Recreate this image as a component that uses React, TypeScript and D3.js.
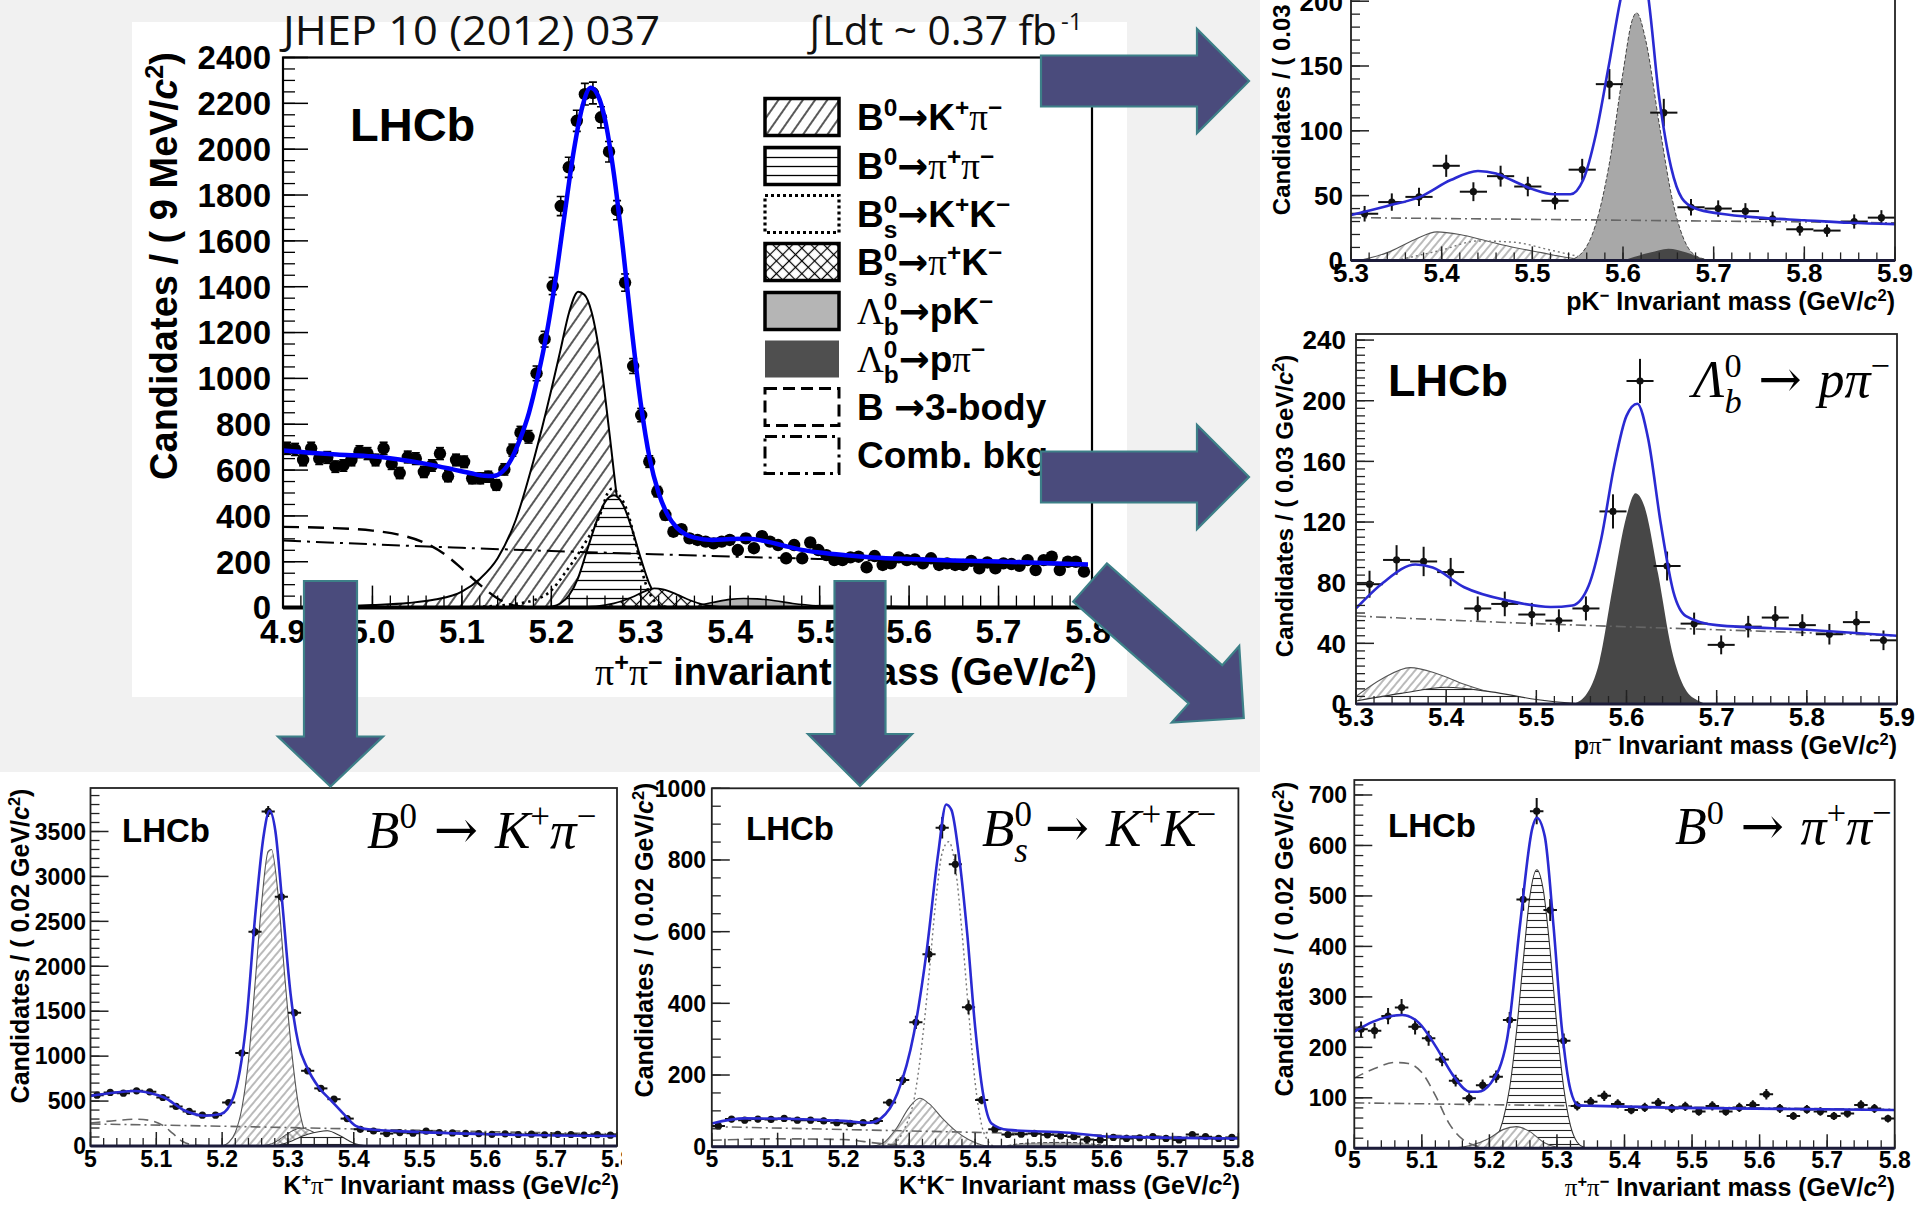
import React, { useEffect } from "react";
import * as d3 from "d3";

type Pt = [number, number];

// ======================= DATA =======================
// Main plot: pi+pi- invariant mass, 9 MeV/c^2 bins from 4.9 GeV/c^2
const mainBinStart = 4.9;
const mainBinWidth = 0.009;
const mainCounts: number[] = [
  695, 690, 644, 695, 650, 655, 615, 620, 644, 680,
  672, 644, 695, 628, 587, 657, 650, 592, 620, 672,
  573, 644, 636, 564, 564, 571, 535, 603, 687, 763,
  745, 1022, 1171, 1403, 1752, 1921, 2124, 2240, 2245, 2139,
  1989, 1734, 1418, 1054, 840, 637, 506, 404, 331, 342,
  302, 295, 288, 280, 288, 295, 251, 302, 259, 312,
  288, 273, 215, 273, 215, 284, 251, 229, 207, 207,
  219, 222, 176, 225, 186, 193, 219, 207, 210, 193,
  215, 186, 193, 186, 186, 204, 171, 197, 171, 193,
  190, 182, 207, 164, 207, 222, 164, 200, 200, 157,
];
const mainFit: Pt[] = [
  [4.9, 685], [4.93, 676], [4.96, 668], [5.0, 660], [5.03, 646], [5.06, 627], [5.09, 603],
  [5.11, 586], [5.125, 575], [5.135, 574], [5.145, 592], [5.155, 645], [5.165, 735],
  [5.175, 850], [5.185, 1010], [5.195, 1200], [5.205, 1440], [5.215, 1720], [5.225, 1990],
  [5.235, 2190], [5.244, 2268], [5.252, 2235], [5.26, 2130], [5.27, 1890], [5.28, 1570],
  [5.29, 1210], [5.3, 890], [5.31, 650], [5.32, 500], [5.33, 405], [5.34, 350], [5.35, 320],
  [5.36, 305], [5.38, 295], [5.4, 299], [5.42, 300], [5.44, 289], [5.46, 270], [5.48, 252],
  [5.5, 240], [5.53, 228], [5.56, 219], [5.6, 212], [5.65, 206], [5.7, 201], [5.75, 195], [5.8, 188],
];
const mainBdKpi: Pt[] = [
  [4.92, 2], [4.96, 5], [5.0, 11], [5.04, 20], [5.07, 35], [5.1, 70], [5.12, 125], [5.14, 215],
  [5.16, 380], [5.18, 640], [5.2, 950], [5.21, 1120], [5.22, 1290], [5.23, 1378], [5.237, 1365],
  [5.245, 1290], [5.255, 1080], [5.265, 760], [5.275, 430], [5.285, 200], [5.295, 70],
  [5.305, 20], [5.32, 3], [5.34, 0],
];
const mainBdPipi: Pt[] = [
  [5.19, 0], [5.2, 4], [5.21, 18], [5.22, 55], [5.23, 130], [5.24, 250], [5.25, 370], [5.26, 460],
  [5.27, 490], [5.28, 450], [5.29, 345], [5.3, 215], [5.31, 100], [5.32, 35], [5.33, 10],
  [5.34, 2], [5.35, 0],
];
const mainBsKK: Pt[] = [
  [5.08, 0], [5.12, 4], [5.15, 12], [5.18, 32], [5.2, 75], [5.215, 150], [5.235, 265],
  [5.255, 410], [5.263, 500], [5.268, 520], [5.275, 495], [5.285, 420], [5.295, 270],
  [5.305, 110], [5.315, 30], [5.325, 5], [5.34, 0],
];
const mainBsPiK: Pt[] = [
  [5.22, 0], [5.25, 5], [5.27, 18], [5.29, 45], [5.305, 72], [5.315, 84], [5.325, 80],
  [5.34, 58], [5.355, 32], [5.37, 13], [5.385, 4], [5.4, 0],
];
const mainLbPK: Pt[] = [
  [5.33, 0], [5.36, 8], [5.38, 22], [5.4, 36], [5.415, 40], [5.43, 38], [5.45, 30], [5.47, 18],
  [5.5, 7], [5.53, 2], [5.55, 0],
];
const mainLbPPi: Pt[] = [[5.44, 0], [5.47, 6], [5.5, 12], [5.54, 14], [5.58, 9], [5.62, 3], [5.66, 0]];
const main3Body: Pt[] = [
  [4.9, 352], [4.95, 348], [5.0, 336], [5.03, 318], [5.06, 280], [5.08, 235], [5.1, 170],
  [5.12, 100], [5.14, 40], [5.16, 8], [5.18, 0],
];
const mainComb: Pt[] = [
  [4.9, 293], [5.0, 276], [5.1, 261], [5.2, 247], [5.3, 235], [5.4, 223], [5.5, 212],
  [5.6, 202], [5.7, 193], [5.8, 185],
];
const mainXTicks = [4.9, 5.0, 5.1, 5.2, 5.3, 5.4, 5.5, 5.6, 5.7, 5.8];
const mainXTickLabels = ["4.9", "5.0", "5.1", "5.2", "5.3", "5.4", "5.5", "5.6", "5.7", "5.8"];
const mainYTicks = [0, 200, 400, 600, 800, 1000, 1200, 1400, 1600, 1800, 2000, 2200, 2400];

// Right top: pK- invariant mass, 0.03 GeV/c^2 bins
const pkBinStart = 5.3;
const pkBinWidth = 0.03;
const pkCounts: number[] = [36, 45, 49, 73, 53, 65, 57, 46, 70, 136, 226, 114, 41, 40, 38, 32, 24, 23, 30, 33];
const pkFit: Pt[] = [
  [5.3, 35], [5.34, 42], [5.376, 49], [5.41, 62], [5.44, 69], [5.46, 67], [5.477, 62], [5.5, 55],
  [5.524, 51], [5.542, 51], [5.556, 62], [5.57, 97], [5.584, 149], [5.6, 210], [5.613, 235],
  [5.626, 212], [5.64, 125], [5.653, 72], [5.665, 48], [5.68, 40], [5.708, 36], [5.75, 33],
  [5.8, 31], [5.85, 29], [5.9, 28],
];
const pkLbPK: Pt[] = [
  [5.54, 0], [5.555, 6], [5.57, 28], [5.585, 75], [5.6, 145], [5.61, 185], [5.615, 191],
  [5.625, 170], [5.64, 105], [5.655, 45], [5.67, 12], [5.685, 2], [5.7, 0],
];
const pkLbPPi: Pt[] = [[5.6, 0], [5.63, 6], [5.65, 9], [5.67, 6], [5.69, 1], [5.7, 0]];
const pkBdKpi: Pt[] = [
  [5.31, 0], [5.34, 6], [5.37, 16], [5.395, 22], [5.42, 20], [5.45, 15], [5.48, 10], [5.51, 6],
  [5.54, 2], [5.57, 0],
];
const pkOther: Pt[] = [[5.35, 0], [5.4, 8], [5.44, 15], [5.48, 14], [5.52, 8], [5.56, 2], [5.6, 0]];
const pkComb: Pt[] = [[5.3, 33], [5.6, 31], [5.9, 29]];
const pkYTicks = [0, 50, 100, 150, 200];

// Right middle: p pi- invariant mass, 0.03 GeV/c^2 bins
const ppiBinStart = 5.3;
const ppiBinWidth = 0.03;
const ppiCounts: number[] = [79, 95, 94, 87, 63, 66, 59, 55, 63, 127, 213, 91, 53, 39, 51, 57, 52, 46, 54, 42];
const ppiFit: Pt[] = [
  [5.3, 63], [5.33, 80], [5.366, 92], [5.385, 90], [5.42, 77], [5.47, 68], [5.516, 64], [5.54, 65],
  [5.558, 78], [5.572, 109], [5.586, 156], [5.6, 190], [5.612, 198], [5.624, 175], [5.638, 119],
  [5.652, 74], [5.666, 58], [5.7, 52], [5.8, 49], [5.9, 45],
];
const ppiLbPPi: Pt[] = [
  [5.54, 0], [5.555, 6], [5.57, 28], [5.585, 78], [5.6, 124], [5.61, 139], [5.62, 130],
  [5.635, 86], [5.65, 36], [5.665, 10], [5.68, 2], [5.69, 0],
];
const ppiBdKpi: Pt[] = [[5.3, 5], [5.33, 17], [5.36, 24], [5.39, 20], [5.42, 13], [5.46, 6], [5.5, 2], [5.54, 0]];
const ppiOther: Pt[] = [[5.3, 2], [5.35, 7], [5.4, 11], [5.45, 8], [5.5, 3], [5.55, 0]];
const ppiComb: Pt[] = [[5.3, 58], [5.5, 53], [5.7, 49], [5.9, 45]];
const ppiYTicks = [0, 40, 80, 120, 160, 200, 240];
const rightXTicks = [5.3, 5.4, 5.5, 5.6, 5.7, 5.8, 5.9];
const rightXTickLabels = ["5.3", "5.4", "5.5", "5.6", "5.7", "5.8", "5.9"];

// Bottom left: K+pi- invariant mass, 0.02 GeV/c^2 bins
const kpiBinStart = 5.0;
const kpiBinWidth = 0.02;
const kpiCounts: number[] = [
  566, 596, 588, 614, 603, 540, 440, 385, 343, 343,
  484, 1035, 2383, 3723, 2774, 1482, 837, 641, 521, 305,
  186, 167, 138, 149, 142, 165, 150, 145, 140, 138,
  130, 135, 128, 132, 125, 130, 128, 122, 126, 120,
];
const kpiFit: Pt[] = [
  [5.0, 558], [5.035, 592], [5.068, 612], [5.09, 590], [5.112, 540], [5.143, 395], [5.174, 337],
  [5.198, 355], [5.217, 540], [5.236, 1322], [5.251, 2625], [5.263, 3450], [5.272, 3730],
  [5.281, 3500], [5.291, 2736], [5.304, 1694], [5.316, 1135], [5.329, 875], [5.347, 651],
  [5.366, 503], [5.385, 354], [5.403, 223], [5.422, 186], [5.484, 160], [5.608, 130], [5.8, 112],
];
const kpiBdKpi: Pt[] = [
  [5.2, 0], [5.21, 40], [5.22, 150], [5.23, 420], [5.24, 950], [5.25, 1800], [5.26, 2700],
  [5.27, 3280], [5.275, 3300], [5.285, 2800], [5.295, 1900], [5.305, 1100], [5.315, 500],
  [5.325, 170], [5.335, 40], [5.345, 5], [5.355, 0],
];
const kpiCross: Pt[] = [[5.26, 0], [5.28, 40], [5.3, 140], [5.32, 200], [5.34, 150], [5.36, 60], [5.38, 10], [5.4, 0]];
const kpiHoriz: Pt[] = [[5.28, 0], [5.3, 40], [5.33, 130], [5.36, 170], [5.38, 110], [5.4, 30], [5.42, 0]];
const kpiComb: Pt[] = [[5.0, 245], [5.2, 220], [5.4, 190], [5.6, 160], [5.8, 135]];
const kpi3Body: Pt[] = [
  [5.0, 255], [5.04, 285], [5.07, 298], [5.09, 285], [5.11, 230], [5.125, 140], [5.14, 50],
  [5.16, 8], [5.18, 0],
];
const kpiYTicks = [0, 500, 1000, 1500, 2000, 2500, 3000, 3500];

// Bottom middle: K+K- invariant mass, 0.02 GeV/c^2 bins
const kkBinStart = 5.0;
const kkBinWidth = 0.02;
const kkCounts: number[] = [
  58, 77, 74, 77, 76, 79, 74, 74, 72, 67,
  65, 67, 72, 123, 186, 347, 537, 890, 788, 389,
  130, 49, 34, 35, 37, 33, 30, 28, 20, 19,
  26, 23, 25, 28, 23, 19, 34, 28, 23, 26,
];
const kkFit: Pt[] = [
  [5.0, 65], [5.05, 79], [5.15, 76], [5.2, 72], [5.24, 67], [5.257, 79], [5.282, 149],
  [5.307, 316], [5.326, 540], [5.344, 819], [5.356, 955], [5.364, 940], [5.375, 819],
  [5.388, 595], [5.4, 335], [5.412, 149], [5.425, 65], [5.45, 47], [5.543, 39], [5.605, 28], [5.8, 23],
];
const kkBsKK: Pt[] = [
  [5.27, 0], [5.29, 40], [5.31, 160], [5.32, 300], [5.33, 480], [5.34, 680], [5.35, 820],
  [5.36, 851], [5.37, 780], [5.38, 600], [5.39, 380], [5.4, 180], [5.41, 60], [5.42, 15], [5.43, 0],
];
const kkBdKpi: Pt[] = [
  [5.24, 0], [5.26, 10], [5.28, 50], [5.3, 110], [5.316, 135], [5.33, 120], [5.35, 80],
  [5.37, 45], [5.39, 20], [5.41, 5], [5.43, 0],
];
const kkComb: Pt[] = [[5.0, 56], [5.2, 48], [5.4, 40], [5.6, 32], [5.8, 25]];
const kk3Body: Pt[] = [[5.0, 18], [5.1, 22], [5.2, 20], [5.25, 10], [5.3, 2], [5.33, 0]];
const kkLb: Pt[] = [[5.44, 0], [5.48, 10], [5.54, 12], [5.6, 4], [5.64, 0]];
const kkYTicks = [0, 200, 400, 600, 800, 1000];

// Bottom right: pi+pi- invariant mass, 0.02 GeV/c^2 bins
const pipiBinStart = 5.0;
const pipiBinWidth = 0.02;
const pipiCounts: number[] = [
  236, 233, 262, 279, 241, 218, 176, 134, 99, 125,
  142, 254, 493, 668, 472, 213, 84, 92, 104, 88,
  76, 81, 90, 79, 83, 73, 84, 73, 81, 86,
  107, 79, 64, 77, 73, 64, 69, 86, 79, 59,
];
const pipiFit: Pt[] = [
  [5.0, 231], [5.028, 251], [5.071, 264], [5.096, 248], [5.121, 201], [5.146, 145], [5.171, 112],
  [5.183, 112], [5.202, 129], [5.226, 215], [5.245, 439], [5.264, 637], [5.27, 655], [5.282, 618],
  [5.295, 439], [5.307, 241], [5.32, 116], [5.332, 85], [5.357, 84], [5.481, 80], [5.8, 76],
];
const pipiBdPipi: Pt[] = [
  [5.19, 0], [5.2, 5], [5.21, 20], [5.22, 55], [5.23, 120], [5.24, 230], [5.25, 370], [5.26, 500],
  [5.27, 552], [5.28, 510], [5.29, 390], [5.3, 240], [5.31, 120], [5.32, 45], [5.33, 12],
  [5.34, 2], [5.35, 0],
];
const pipiBdKpi: Pt[] = [[5.14, 0], [5.17, 5], [5.2, 20], [5.22, 37], [5.24, 43], [5.26, 33], [5.28, 12], [5.3, 2], [5.31, 0]];
const pipi3Body: Pt[] = [
  [5.0, 139], [5.03, 158], [5.06, 170], [5.08, 168], [5.1, 150], [5.12, 105], [5.14, 50],
  [5.16, 18], [5.18, 5], [5.2, 0],
];
const pipiComb: Pt[] = [[5.0, 90], [5.4, 83], [5.8, 77]];
const pipiYTicks = [0, 100, 200, 300, 400, 500, 600, 700];
const bottomXTicks = [5.0, 5.1, 5.2, 5.3, 5.4, 5.5, 5.6, 5.7, 5.8];
const bottomXTickLabels = ["5", "5.1", "5.2", "5.3", "5.4", "5.5", "5.6", "5.7", "5.8"];

// ======================= STYLE =======================
const SANS = "'Liberation Sans', Arial, Helvetica, sans-serif";
const SERIF = "'Liberation Serif', 'DejaVu Serif', 'Times New Roman', serif";
const SLIDE = "'Open Sans', 'DejaVu Sans', sans-serif";
const ARROWFONT = "'DejaVu Sans', sans-serif";

type Kind = "hatch" | "hh" | "cross" | "light" | "dark" | "dotted" | "dashed" | "dashdot";
type St = { fill?: string; stroke?: string; sw?: number; dash?: string };
const BIG: Record<Kind, St> = {
  hatch: { fill: "url(#hatchBig)", stroke: "#000", sw: 2 },
  hh: { fill: "url(#hhBig)", stroke: "#000", sw: 2 },
  cross: { fill: "url(#crossBig)", stroke: "#000", sw: 1.8 },
  light: { fill: "#b3b3b3", stroke: "#000", sw: 1.6 },
  dark: { fill: "#505050" },
  dotted: { stroke: "#000", sw: 2.6, dash: "2.5,4" },
  dashed: { stroke: "#000", sw: 2.4, dash: "16,9" },
  dashdot: { stroke: "#000", sw: 2, dash: "18,6,3,6" },
};
const SMALL: Record<Kind, St> = {
  hatch: { fill: "url(#hatchSmall)", stroke: "#555", sw: 1.1 },
  hh: { fill: "url(#hhSmall)", stroke: "#333", sw: 1.1 },
  cross: { fill: "url(#crossSmall)", stroke: "#444", sw: 1 },
  light: { fill: "#a8a8a8", stroke: "#444", sw: 1, dash: "4,2" },
  dark: { fill: "#474747" },
  dotted: { stroke: "#777", sw: 1.4, dash: "2,3" },
  dashed: { stroke: "#666", sw: 1.6, dash: "10,6" },
  dashdot: { stroke: "#666", sw: 1.6, dash: "10,4,2,4" },
};

type Tok = { t: string; sup?: boolean; sub?: boolean; serif?: boolean; italic?: boolean; dx?: number; fam?: string; w?: number };
const T = (t: string, o: Partial<Tok> = {}): Tok => ({ t, ...o });

function Rich(props: {
  x: number; y: number; size: number; toks: Tok[]; anchor?: "start" | "middle" | "end";
  weight?: number; family?: string; rotate?: number; sx?: number; fill?: string;
}) {
  const { x, y, size, toks, anchor = "start", weight = 700, family = SANS, rotate = 0, sx = 1, fill = "#000" } = props;
  let cur = 0;
  const kids = toks.map((tk, i) => {
    const small = !!(tk.sup || tk.sub);
    const target = tk.sup ? -size * 0.38 : tk.sub ? size * 0.3 : 0;
    const dy = target - cur;
    cur = target;
    return (
      <tspan
        key={i}
        dy={dy}
        dx={tk.dx ?? 0}
        fontSize={small ? size * 0.66 : size}
        fontFamily={tk.fam ? tk.fam : tk.serif ? SERIF : undefined}
        fontStyle={tk.italic ? "italic" : undefined}
        fontWeight={tk.w !== undefined ? tk.w : tk.serif ? 400 : undefined}
      >
        {tk.t}
      </tspan>
    );
  });
  return (
    <text
      transform={`translate(${x},${y}) rotate(${rotate}) scale(${sx},1)`}
      fontSize={size}
      fontFamily={family}
      fontWeight={weight}
      textAnchor={anchor}
      fill={fill}
      style={{ whiteSpace: "pre" }}
    >
      {kids}
    </text>
  );
}

interface Comp { pts: Pt[]; kind: Kind }
interface PanelProps {
  id: string; big?: boolean;
  left: number; right: number; top: number; bottom: number;
  xDomain: [number, number]; yMax: number;
  xTicks: number[]; xTickLabels: string[]; xMinorStep: number;
  yTicks: number[]; yMinorStep: number;
  tickSize: number; yLabelRight: number; xLabelBaseline: number;
  binStart: number; binWidth: number; counts: number[];
  fit: Pt[]; comps: Comp[];
}

function Panel(p: PanelProps) {
  const big = !!p.big;
  const x = d3.scaleLinear().domain(p.xDomain).range([p.left, p.right]);
  const y = d3.scaleLinear().domain([0, p.yMax]).range([p.bottom, p.top]);
  const line = d3.line<Pt>().x((d) => x(d[0])).y((d) => y(d[1])).curve(d3.curveMonotoneX);
  const area = d3.area<Pt>().x((d) => x(d[0])).y0(y(0)).y1((d) => y(d[1])).curve(d3.curveMonotoneX);
  const styles = big ? BIG : SMALL;
  const xMinor = d3.range(p.xDomain[0], p.xDomain[1] + 1e-6, p.xMinorStep);
  const yMinor = d3.range(0, p.yMax + 1e-6, p.yMinorStep);
  const yMajLen = big ? 25 : 18, yMinLen = big ? 12 : 9;
  const xMajLen = big ? 22 : 14, xMinLen = big ? 12 : 8;
  const tickColor = big ? "#000" : "#222";
  const fitColor = big ? "#0000ff" : "#2a2ad2";
  return (
    <g>
      <defs>
        <clipPath id={`clip-${p.id}`}>
          <rect x={p.left} y={p.top} width={p.right - p.left} height={p.bottom - p.top} />
        </clipPath>
      </defs>
      <g clipPath={`url(#clip-${p.id})`}>
        {p.comps.map((c, i) => {
          const st = styles[c.kind];
          return (
            <g key={i}>
              {st.fill && <path d={area(c.pts) || ""} fill={st.fill} stroke="none" />}
              {st.stroke && (
                <path d={line(c.pts) || ""} fill="none" stroke={st.stroke} strokeWidth={st.sw} strokeDasharray={st.dash} />
              )}
            </g>
          );
        })}
        {p.counts.map((n, i) => {
          const xc = p.binStart + (i + 0.5) * p.binWidth;
          const e = Math.sqrt(n);
          const px = x(xc), py = y(n), lo = y(n - e), hi = y(n + e);
          return big ? (
            <g key={i}>
              <line x1={px} x2={px} y1={lo} y2={hi} stroke="#000" strokeWidth={1.6} />
              <line x1={px - 4} x2={px + 4} y1={hi} y2={hi} stroke="#000" strokeWidth={1.6} />
              <line x1={px - 4} x2={px + 4} y1={lo} y2={lo} stroke="#000" strokeWidth={1.6} />
              <circle cx={px} cy={py} r={6.2} fill="#000" />
            </g>
          ) : (
            <g key={i}>
              <line x1={px} x2={px} y1={lo} y2={hi} stroke="#111" strokeWidth={2} />
              <line x1={x(xc - p.binWidth / 2)} x2={x(xc + p.binWidth / 2)} y1={py} y2={py} stroke="#111" strokeWidth={2} />
              <circle cx={px} cy={py} r={3.6} fill="#111" />
            </g>
          );
        })}
        <path d={line(p.fit) || ""} fill="none" stroke={fitColor} strokeWidth={big ? 4.5 : 2.6} />
      </g>
      {yMinor.map((v, i) => (
        <line key={`ym${i}`} x1={p.left} x2={p.left + yMinLen} y1={y(v)} y2={y(v)} stroke={tickColor} strokeWidth={1.3} />
      ))}
      {p.yTicks.map((v, i) => (
        <line key={`yM${i}`} x1={p.left} x2={p.left + yMajLen} y1={y(v)} y2={y(v)} stroke={tickColor} strokeWidth={1.5} />
      ))}
      {xMinor.map((v, i) => (
        <line key={`xm${i}`} x1={x(v)} x2={x(v)} y1={p.bottom} y2={p.bottom - xMinLen} stroke={tickColor} strokeWidth={1.3} />
      ))}
      {p.xTicks.map((v, i) => (
        <line key={`xM${i}`} x1={x(v)} x2={x(v)} y1={p.bottom} y2={p.bottom - xMajLen} stroke={tickColor} strokeWidth={1.5} />
      ))}
      <rect x={p.left} y={p.top} width={p.right - p.left} height={p.bottom - p.top} fill="none" stroke={tickColor} strokeWidth={big ? 2.2 : 1.8} />
      <line x1={p.left} x2={p.right} y1={p.bottom} y2={p.bottom} stroke={big ? "#000" : "#1c1c3a"} strokeWidth={big ? 4 : 3} />
      {p.yTicks.map((v, i) => (
        <text key={`yl${i}`} x={p.yLabelRight} y={y(v) + p.tickSize * 0.36} fontSize={p.tickSize} fontFamily={SANS} fontWeight={700} textAnchor="end">
          {String(v)}
        </text>
      ))}
      {p.xTicks.map((v, i) => (
        <text key={`xl${i}`} x={x(v)} y={p.xLabelBaseline} fontSize={p.tickSize} fontFamily={SANS} fontWeight={700} textAnchor="middle">
          {p.xTickLabels[i]}
        </text>
      ))}
    </g>
  );
}

function Arrow({ x, y, angle, len, shaft, headLen, head }: { x: number; y: number; angle: number; len: number; shaft: number; headLen: number; head: number }) {
  const b = len - headLen;
  const pts = [[0, -shaft], [b, -shaft], [b, -head], [len, 0], [b, head], [b, shaft], [0, shaft]].map((q) => q.join(",")).join(" ");
  return <polygon points={pts} transform={`translate(${x},${y}) rotate(${angle})`} fill="#4a4b7c" stroke="#3d8088" strokeWidth={2.2} strokeLinejoin="miter" />;
}

const AR = (t: string) => T(t, { fam: ARROWFONT });
const legendRows: { toks: Tok[]; box: Kind }[] = [
  { toks: [T("B"), T("0", { sup: true }), AR("→"), T("K"), T("+", { sup: true }), T("π", { serif: true }), T("−", { sup: true })], box: "hatch" },
  { toks: [T("B"), T("0", { sup: true }), AR("→"), T("π", { serif: true }), T("+", { sup: true }), T("π", { serif: true }), T("−", { sup: true })], box: "hh" },
  { toks: [T("B"), T("0", { sup: true }), T("s", { sub: true, dx: -13.6 }), AR("→"), T("K"), T("+", { sup: true }), T("K"), T("−", { sup: true })], box: "dotted" },
  { toks: [T("B"), T("0", { sup: true }), T("s", { sub: true, dx: -13.6 }), AR("→"), T("π", { serif: true }), T("+", { sup: true }), T("K"), T("−", { sup: true })], box: "cross" },
  { toks: [T("Λ", { serif: true }), T("0", { sup: true }), T("b", { sub: true, dx: -13.6 }), AR("→"), T("pK"), T("−", { sup: true })], box: "light" },
  { toks: [T("Λ", { serif: true }), T("0", { sup: true }), T("b", { sub: true, dx: -13.6 }), AR("→"), T("p"), T("π", { serif: true }), T("−", { sup: true })], box: "dark" },
  { toks: [T("B "), AR("→"), T("3-body")], box: "dashed" },
  { toks: [T("Comb. bkg")], box: "dashdot" },
];
const legendRowY = [117, 166, 214, 262, 311, 359, 407, 455];

function LegendBox({ kind, cy }: { kind: string; cy: number }) {
  const x0 = 765, w = 74, h = 37;
  const y0 = cy - h / 2;
  let fill = "#fff", stroke: string | undefined = "#000", dash: string | undefined, sw = 3.5;
  if (kind === "hatch") fill = "url(#hatchBig)";
  if (kind === "hh") fill = "url(#hhBig)";
  if (kind === "cross") fill = "url(#crossBig)";
  if (kind === "light") fill = "#b5b5b5";
  if (kind === "dark") { fill = "#4f4f4f"; stroke = undefined; }
  if (kind === "dotted") { dash = "3,3"; sw = 3.2; }
  if (kind === "dashed") { dash = "12,6"; sw = 3; }
  if (kind === "dashdot") { dash = "12,5,3,5"; sw = 3; }
  return <rect x={x0} y={y0} width={w} height={h} fill={fill} stroke={stroke} strokeWidth={sw} strokeDasharray={dash} />;
}

const massTitle = (pre: Tok[]): Tok[] => [...pre, T(" Invariant mass (GeV/"), T("c", { italic: true }), T("2", { sup: true }), T(")")];
const candTitle = (w: string): Tok[] => [T(`Candidates / ( ${w} GeV/`), T("c", { italic: true }), T("2", { sup: true }), T(")")];
const LARR = T(" → ", { fam: "'DejaVu Serif', serif", w: 400 });

export default function App() {
  useEffect(() => {
    document.body.style.margin = "0";
    document.body.style.overflow = "hidden";
  }, []);
  return (
    <svg width={1917} height={1205} viewBox="0 0 1917 1205" style={{ position: "absolute", left: 0, top: 0, display: "block" }}>
      <defs>
        <pattern id="hatchBig" patternUnits="userSpaceOnUse" width={10} height={10} patternTransform="rotate(35)">
          <rect width={10} height={10} fill="#fff" />
          <line x1={5} y1={0} x2={5} y2={10} stroke="#000" strokeWidth={1.3} />
        </pattern>
        <pattern id="hhBig" patternUnits="userSpaceOnUse" width={10} height={9}>
          <rect width={10} height={9} fill="#fff" />
          <line x1={0} y1={4.5} x2={10} y2={4.5} stroke="#000" strokeWidth={1.3} />
        </pattern>
        <pattern id="crossBig" patternUnits="userSpaceOnUse" width={9} height={9} patternTransform="rotate(45)">
          <rect width={9} height={9} fill="#fff" />
          <line x1={4.5} y1={0} x2={4.5} y2={9} stroke="#000" strokeWidth={1.2} />
          <line x1={0} y1={4.5} x2={9} y2={4.5} stroke="#000" strokeWidth={1.2} />
        </pattern>
        <pattern id="hatchSmall" patternUnits="userSpaceOnUse" width={6} height={6} patternTransform="rotate(40)">
          <rect width={6} height={6} fill="#fff" />
          <line x1={3} y1={0} x2={3} y2={6} stroke="#666" strokeWidth={0.9} />
        </pattern>
        <pattern id="hhSmall" patternUnits="userSpaceOnUse" width={6} height={7}>
          <rect width={6} height={7} fill="#fff" />
          <line x1={0} y1={3.5} x2={6} y2={3.5} stroke="#222" strokeWidth={1.1} />
        </pattern>
        <pattern id="crossSmall" patternUnits="userSpaceOnUse" width={6} height={6} patternTransform="rotate(45)">
          <rect width={6} height={6} fill="#fff" />
          <line x1={3} y1={0} x2={3} y2={6} stroke="#555" strokeWidth={0.8} />
          <line x1={0} y1={3} x2={6} y2={3} stroke="#555" strokeWidth={0.8} />
        </pattern>
      </defs>

      {/* slide background */}
      <rect x={0} y={0} width={1917} height={1205} fill="#ffffff" />
      <rect x={0} y={0} width={1260} height={772} fill="#f1f1f1" />
      <rect x={132} y={22} width={995} height={675} fill="#ffffff" />

      {/* ---------- main plot ---------- */}
      <text x={283} y={45} fontFamily={SLIDE} fontSize={40} textLength={377} lengthAdjust="spacingAndGlyphs" fill="#111">
        JHEP 10 (2012) 037
      </text>
      <text x={807} y={45} fontFamily={SLIDE} fontSize={40} textLength={250} lengthAdjust="spacingAndGlyphs" fill="#111">
        ∫Ldt ~ 0.37 fb
      </text>
      <text x={1061} y={30} fontFamily={SLIDE} fontSize={24} fill="#111">-1</text>

      <Panel
        id="main" big left={283} right={1092} top={57.5} bottom={607.6}
        xDomain={[4.9, 5.8045]} yMax={2400}
        xTicks={mainXTicks} xTickLabels={mainXTickLabels} xMinorStep={0.02}
        yTicks={mainYTicks} yMinorStep={50}
        tickSize={33} yLabelRight={271} xLabelBaseline={643}
        binStart={mainBinStart} binWidth={mainBinWidth} counts={mainCounts}
        fit={mainFit}
        comps={[
          { pts: mainLbPPi, kind: "dark" },
          { pts: mainLbPK, kind: "light" },
          { pts: mainBdKpi, kind: "hatch" },
          { pts: mainBdPipi, kind: "hh" },
          { pts: mainBsPiK, kind: "cross" },
          { pts: mainBsKK, kind: "dotted" },
          { pts: main3Body, kind: "dashed" },
          { pts: mainComb, kind: "dashdot" },
        ]}
      />
      <text x={350} y={141} fontFamily={SANS} fontWeight={700} fontSize={47}>LHCb</text>
      <Rich x={177} y={266} size={38} rotate={-90} anchor="middle"
        toks={[T("Candidates / ( 9 MeV/"), T("c", { italic: true }), T("2", { sup: true }), T(")")]} />
      <Rich x={1097} y={685} size={38} anchor="end"
        toks={[T("π", { serif: true }), T("+", { sup: true }), T("π", { serif: true }), T("−", { sup: true }), T(" invariant mass (GeV/"), T("c", { italic: true }), T("2", { sup: true }), T(")")]} />
      {legendRows.map((r, i) => (
        <g key={`lg${i}`}>
          <LegendBox kind={r.box} cy={legendRowY[i]} />
          <Rich x={857} y={legendRowY[i] + 13} size={37} toks={r.toks} />
        </g>
      ))}

      {/* ---------- bottom left: K+ pi- ---------- */}
      <Panel
        id="kpi" left={90.5} right={617} top={788} bottom={1146}
        xDomain={[5.0, 5.8]} yMax={3984}
        xTicks={bottomXTicks} xTickLabels={bottomXTickLabels} xMinorStep={0.02}
        yTicks={kpiYTicks} yMinorStep={100}
        tickSize={23} yLabelRight={86} xLabelBaseline={1167}
        binStart={kpiBinStart} binWidth={kpiBinWidth} counts={kpiCounts}
        fit={kpiFit}
        comps={[
          { pts: kpiBdKpi, kind: "hatch" },
          { pts: kpiCross, kind: "cross" },
          { pts: kpiHoriz, kind: "hh" },
          { pts: kpi3Body, kind: "dashed" },
          { pts: kpiComb, kind: "dashdot" },
        ]}
      />
      <text x={122} y={842} fontFamily={SANS} fontWeight={700} fontSize={33}>LHCb</text>
      <Rich x={367} y={848} size={53} family={SERIF} weight={400}
        toks={[T("B", { italic: true }), T("0", { sup: true }), LARR, T("K", { italic: true }), T("+", { sup: true }), T("π", { italic: true }), T("−", { sup: true })]} />
      <Rich x={29} y={946} size={25} rotate={-90} anchor="middle" toks={candTitle("0.02")} />
      <Rich x={619} y={1194} size={25} anchor="end" toks={massTitle([T("K"), T("+", { sup: true }), T("π", { serif: true }), T("−", { sup: true })])} />

      <rect x={622} y={772} width={638} height={433} fill="#ffffff" />

      {/* ---------- bottom middle: K+ K- ---------- */}
      <Panel
        id="kk" left={711.8} right={1238.4} top={788.3} bottom={1146.7}
        xDomain={[5.0, 5.8]} yMax={1000}
        xTicks={bottomXTicks} xTickLabels={bottomXTickLabels} xMinorStep={0.02}
        yTicks={kkYTicks} yMinorStep={50}
        tickSize={23} yLabelRight={706} xLabelBaseline={1167}
        binStart={kkBinStart} binWidth={kkBinWidth} counts={kkCounts}
        fit={kkFit}
        comps={[
          { pts: kkLb, kind: "light" },
          { pts: kkBdKpi, kind: "hatch" },
          { pts: kkBsKK, kind: "dotted" },
          { pts: kk3Body, kind: "dashed" },
          { pts: kkComb, kind: "dashdot" },
        ]}
      />
      <text x={746} y={840} fontFamily={SANS} fontWeight={700} fontSize={33}>LHCb</text>
      <Rich x={982} y={846} size={53} family={SERIF} weight={400}
        toks={[T("B", { italic: true }), T("0", { sup: true }), T("s", { sub: true, italic: true, dx: -17.5 }), LARR, T("K", { italic: true }), T("+", { sup: true }), T("K", { italic: true }), T("−", { sup: true })]} />
      <Rich x={653} y={940} size={25} rotate={-90} anchor="middle" toks={candTitle("0.02")} />
      <Rich x={1240} y={1194} size={25} anchor="end" toks={massTitle([T("K"), T("+", { sup: true }), T("K"), T("−", { sup: true })])} />

      {/* ---------- bottom right: pi+ pi- ---------- */}
      <Panel
        id="pipi" left={1354.3} right={1894.7} top={780} bottom={1148.3}
        xDomain={[5.0, 5.8]} yMax={729.7}
        xTicks={bottomXTicks} xTickLabels={bottomXTickLabels} xMinorStep={0.02}
        yTicks={pipiYTicks} yMinorStep={20}
        tickSize={23} yLabelRight={1347} xLabelBaseline={1168}
        binStart={pipiBinStart} binWidth={pipiBinWidth} counts={pipiCounts}
        fit={pipiFit}
        comps={[
          { pts: pipiBdPipi, kind: "hh" },
          { pts: pipiBdKpi, kind: "hatch" },
          { pts: pipi3Body, kind: "dashed" },
          { pts: pipiComb, kind: "dashdot" },
        ]}
      />
      <text x={1388} y={837} fontFamily={SANS} fontWeight={700} fontSize={33}>LHCb</text>
      <Rich x={1675} y={844} size={52} family={SERIF} weight={400}
        toks={[T("B", { italic: true }), T("0", { sup: true }), LARR, T("π", { italic: true }), T("+", { sup: true }), T("π", { italic: true }), T("−", { sup: true })]} />
      <Rich x={1293} y={939} size={25} rotate={-90} anchor="middle" toks={candTitle("0.02")} />
      <Rich x={1895} y={1196} size={25} anchor="end" toks={massTitle([T("π", { serif: true }), T("+", { sup: true }), T("π", { serif: true }), T("−", { sup: true })])} />

      {/* ---------- right top: p K- ---------- */}
      <Panel
        id="pk" left={1351} right={1895} top={-31.2} bottom={260.4}
        xDomain={[5.3, 5.9]} yMax={225}
        xTicks={rightXTicks} xTickLabels={rightXTickLabels} xMinorStep={0.02}
        yTicks={pkYTicks} yMinorStep={10}
        tickSize={26} yLabelRight={1343} xLabelBaseline={282}
        binStart={pkBinStart} binWidth={pkBinWidth} counts={pkCounts}
        fit={pkFit}
        comps={[
          { pts: pkBdKpi, kind: "hatch" },
          { pts: pkOther, kind: "dotted" },
          { pts: pkLbPK, kind: "light" },
          { pts: pkLbPPi, kind: "dark" },
          { pts: pkComb, kind: "dashdot" },
        ]}
      />
      <Rich x={1290} y={64} size={24} rotate={-90} anchor="middle" toks={candTitle("0.03")} />
      <Rich x={1895} y={310} size={25} anchor="end" toks={massTitle([T("pK"), T("−", { sup: true })])} />

      {/* ---------- right middle: p pi- ---------- */}
      <Panel
        id="ppi" left={1356} right={1897} top={334} bottom={704}
        xDomain={[5.3, 5.9]} yMax={244}
        xTicks={rightXTicks} xTickLabels={rightXTickLabels} xMinorStep={0.02}
        yTicks={ppiYTicks} yMinorStep={5}
        tickSize={26} yLabelRight={1346} xLabelBaseline={726}
        binStart={ppiBinStart} binWidth={ppiBinWidth} counts={ppiCounts}
        fit={ppiFit}
        comps={[
          { pts: ppiBdKpi, kind: "hatch" },
          { pts: ppiOther, kind: "hh" },
          { pts: ppiLbPPi, kind: "dark" },
          { pts: ppiComb, kind: "dashdot" },
        ]}
      />
      <text x={1388} y={396} fontFamily={SANS} fontWeight={700} fontSize={45}>LHCb</text>
      <Rich x={1693} y={397} size={52} family={SERIF} weight={400}
        toks={[T("Λ", { italic: true }), T("0", { sup: true }), T("b", { sub: true, italic: true, dx: -17 }), LARR, T("p", { italic: true }), T("π", { italic: true }), T("−", { sup: true })]} />
      <Rich x={1293} y={506} size={24} rotate={-90} anchor="middle" toks={candTitle("0.03")} />
      <Rich x={1897} y={754} size={25} anchor="end" toks={massTitle([T("p"), T("π", { serif: true }), T("−", { sup: true })])} />

      {/* ---------- arrows ---------- */}
      <Arrow x={1041} y={81} angle={0} len={208} shaft={25.5} headLen={52} head={52} />
      <Arrow x={1041} y={477} angle={0} len={208} shaft={25.5} headLen={52} head={52} />
      <Arrow x={1090} y={582.5} angle={41.4} len={205} shaft={25.4} headLen={51} head={51} />
      <Arrow x={330.5} y={581} angle={90} len={205.5} shaft={26.5} headLen={50} head={52.5} />
      <Arrow x={860} y={581} angle={90} len={205} shaft={25.5} headLen={52} head={52} />
    </svg>
  );
}
